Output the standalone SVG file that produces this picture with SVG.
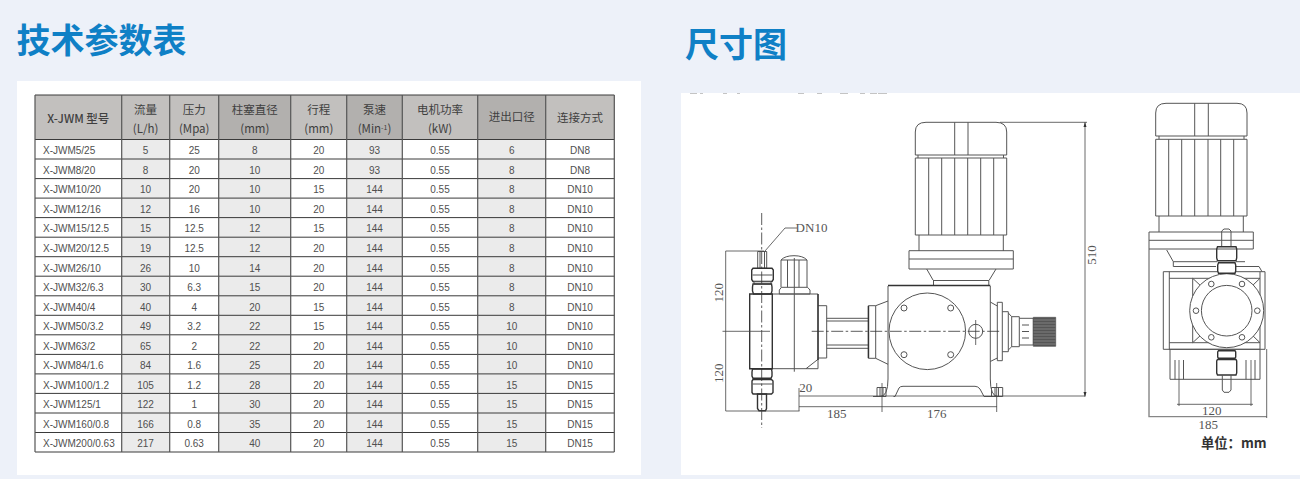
<svg xmlns="http://www.w3.org/2000/svg" width="1300" height="479" viewBox="0 0 1300 479">
<style>
.title{font:700 34px "Noto Sans CJK SC","Noto Sans",sans-serif;fill:#0f80c6}
.th{font:400 11.5px "Noto Sans CJK SC","Liberation Sans",sans-serif;fill:#3f3f3f;text-anchor:middle}
.td{font:400 10px "Liberation Sans",sans-serif;fill:#505050;text-anchor:middle}
.md{font:400 10px "Liberation Sans",sans-serif;fill:#505050}
.grid{stroke:#3a3a3a;stroke-width:1;fill:none}
.vgrid{stroke:#555;stroke-width:1.2;fill:none}
.l{fill:none;stroke:#555;stroke-width:1}
.h{fill:none;stroke:#333;stroke-width:1.4}
.f{fill:#fff;stroke:#555;stroke-width:1}
.d{fill:none;stroke:#444;stroke-width:.8}
.c{fill:none;stroke:#333;stroke-width:.8;stroke-dasharray:12 2.5 2.5 2.5}
.dim{font:400 13px "Liberation Serif",serif;fill:#555;text-anchor:middle}
</style>
<rect width="1300" height="479" fill="#edf1f9"/>
<rect x="17" y="81" width="624" height="394" fill="#fff"/>
<rect x="681" y="93" width="619" height="382" fill="#fff"/>
<path d="M690 93.5H697M700 93.5H703M723 93.5H727M737 93.5H740M798 93.5H804M817 93.5H822M840 93.5H848M860 93.5H865M870 93.5H877M878 93.5H887" stroke="#c4c4c4" stroke-width="1"/>
<text class="title" x="16.5" y="53">技术参数表</text>
<text class="title" x="685" y="57">尺寸图</text>

<g id="table">
<g fill="#c2c0be">
<rect x="35" y="95" width="86.7" height="44.5"/><rect x="121.7" y="95" width="48" height="44.5"/><rect x="169.7" y="95" width="49" height="44.5" fill="#c2c0be"/><rect x="218.7" y="95" width="72" height="44.5" fill="#b2b0ae"/><rect x="290.7" y="95" width="56" height="44.5"/><rect x="346.7" y="95" width="55.6" height="44.5" fill="#b2b0ae"/><rect x="402.3" y="95" width="75.4" height="44.5"/><rect x="477.7" y="95" width="68" height="44.5" fill="#b2b0ae"/><rect x="545.7" y="95" width="68.6" height="44.5"/>
</g>
<g fill="#ebebeb">
<rect x="121.7" y="139.5" width="48" height="312.5"/><rect x="218.7" y="139.5" width="72" height="312.5"/><rect x="346.7" y="139.5" width="55.6" height="312.5"/><rect x="477.7" y="139.5" width="68" height="312.5"/>
</g>
<path class="grid" d="M35 95H614.3M35 139.5H614.3M35 159H614.3M35 178.6H614.3M35 198.1H614.3M35 217.6H614.3M35 237.2H614.3M35 256.7H614.3M35 276.2H614.3M35 295.8H614.3M35 315.3H614.3M35 334.8H614.3M35 354.4H614.3M35 373.9H614.3M35 393.4H614.3M35 413H614.3M35 432.5H614.3M35 452H614.3"/>
<path class="vgrid" d="M35 95V452M121.7 95V452M169.7 95V452M218.7 95V452M290.7 95V452M346.7 95V452M402.3 95V452M477.7 95V452M545.7 95V452M614.3 95V452"/>
<g id="table-head">
<text class="th" x="78.3" y="122.5" style="font-weight:500">X-JWM 型号</text>
<text class="th" x="145.6" y="113.5">流量</text><text class="th" x="145.6" y="133">(L/h)</text>
<text class="th" x="194.2" y="113.5">压力</text><text class="th" x="194.2" y="133">(Mpa)</text>
<text class="th" x="254.8" y="113.5">柱塞直径</text><text class="th" x="254.8" y="133">(mm)</text>
<text class="th" x="318.8" y="113.5">行程</text><text class="th" x="318.8" y="133">(mm)</text>
<text class="th" x="374.5" y="113.5">泵速</text><text class="th" x="374.5" y="133">(Min<tspan font-size="7" dy="-3">-1</tspan><tspan dy="3">)</tspan></text>
<text class="th" x="440" y="113.5">电机功率</text><text class="th" x="440" y="133">(kW)</text>
<text class="th" x="511.7" y="121">进出口径</text>
<text class="th" x="580" y="121.5">连接方式</text>
</g>
<g id="table-body" transform="translate(0,1.4)">
<g transform="translate(0,152.9)"><text class="md" x="43">X-JWM5/25</text><text class="td" x="145.6">5</text><text class="td" x="194.2">25</text><text class="td" x="254.8">8</text><text class="td" x="318.8">20</text><text class="td" x="374.5">93</text><text class="td" x="440">0.55</text><text class="td" x="511.7">6</text><text class="td" x="580">DN8</text></g>
<g transform="translate(0,172.4)"><text class="md" x="43">X-JWM8/20</text><text class="td" x="145.6">8</text><text class="td" x="194.2">20</text><text class="td" x="254.8">10</text><text class="td" x="318.8">20</text><text class="td" x="374.5">93</text><text class="td" x="440">0.55</text><text class="td" x="511.7">8</text><text class="td" x="580">DN8</text></g>
<g transform="translate(0,191.9)"><text class="md" x="43">X-JWM10/20</text><text class="td" x="145.6">10</text><text class="td" x="194.2">20</text><text class="td" x="254.8">10</text><text class="td" x="318.8">15</text><text class="td" x="374.5">144</text><text class="td" x="440">0.55</text><text class="td" x="511.7">8</text><text class="td" x="580">DN10</text></g>
<g transform="translate(0,211.5)"><text class="md" x="43">X-JWM12/16</text><text class="td" x="145.6">12</text><text class="td" x="194.2">16</text><text class="td" x="254.8">10</text><text class="td" x="318.8">20</text><text class="td" x="374.5">144</text><text class="td" x="440">0.55</text><text class="td" x="511.7">8</text><text class="td" x="580">DN10</text></g>
<g transform="translate(0,231)"><text class="md" x="43">X-JWM15/12.5</text><text class="td" x="145.6">15</text><text class="td" x="194.2">12.5</text><text class="td" x="254.8">12</text><text class="td" x="318.8">15</text><text class="td" x="374.5">144</text><text class="td" x="440">0.55</text><text class="td" x="511.7">8</text><text class="td" x="580">DN10</text></g>
<g transform="translate(0,250.5)"><text class="md" x="43">X-JWM20/12.5</text><text class="td" x="145.6">19</text><text class="td" x="194.2">12.5</text><text class="td" x="254.8">12</text><text class="td" x="318.8">20</text><text class="td" x="374.5">144</text><text class="td" x="440">0.55</text><text class="td" x="511.7">8</text><text class="td" x="580">DN10</text></g>
<g transform="translate(0,270.1)"><text class="md" x="43">X-JWM26/10</text><text class="td" x="145.6">26</text><text class="td" x="194.2">10</text><text class="td" x="254.8">14</text><text class="td" x="318.8">20</text><text class="td" x="374.5">144</text><text class="td" x="440">0.55</text><text class="td" x="511.7">8</text><text class="td" x="580">DN10</text></g>
<g transform="translate(0,289.6)"><text class="md" x="43">X-JWM32/6.3</text><text class="td" x="145.6">30</text><text class="td" x="194.2">6.3</text><text class="td" x="254.8">15</text><text class="td" x="318.8">20</text><text class="td" x="374.5">144</text><text class="td" x="440">0.55</text><text class="td" x="511.7">8</text><text class="td" x="580">DN10</text></g>
<g transform="translate(0,309.1)"><text class="md" x="43">X-JWM40/4</text><text class="td" x="145.6">40</text><text class="td" x="194.2">4</text><text class="td" x="254.8">20</text><text class="td" x="318.8">15</text><text class="td" x="374.5">144</text><text class="td" x="440">0.55</text><text class="td" x="511.7">8</text><text class="td" x="580">DN10</text></g>
<g transform="translate(0,328.7)"><text class="md" x="43">X-JWM50/3.2</text><text class="td" x="145.6">49</text><text class="td" x="194.2">3.2</text><text class="td" x="254.8">22</text><text class="td" x="318.8">15</text><text class="td" x="374.5">144</text><text class="td" x="440">0.55</text><text class="td" x="511.7">10</text><text class="td" x="580">DN10</text></g>
<g transform="translate(0,348.2)"><text class="md" x="43">X-JWM63/2</text><text class="td" x="145.6">65</text><text class="td" x="194.2">2</text><text class="td" x="254.8">22</text><text class="td" x="318.8">20</text><text class="td" x="374.5">144</text><text class="td" x="440">0.55</text><text class="td" x="511.7">10</text><text class="td" x="580">DN10</text></g>
<g transform="translate(0,367.7)"><text class="md" x="43">X-JWM84/1.6</text><text class="td" x="145.6">84</text><text class="td" x="194.2">1.6</text><text class="td" x="254.8">25</text><text class="td" x="318.8">20</text><text class="td" x="374.5">144</text><text class="td" x="440">0.55</text><text class="td" x="511.7">10</text><text class="td" x="580">DN10</text></g>
<g transform="translate(0,387.3)"><text class="md" x="43">X-JWM100/1.2</text><text class="td" x="145.6">105</text><text class="td" x="194.2">1.2</text><text class="td" x="254.8">28</text><text class="td" x="318.8">20</text><text class="td" x="374.5">144</text><text class="td" x="440">0.55</text><text class="td" x="511.7">15</text><text class="td" x="580">DN15</text></g>
<g transform="translate(0,406.8)"><text class="md" x="43">X-JWM125/1</text><text class="td" x="145.6">122</text><text class="td" x="194.2">1</text><text class="td" x="254.8">30</text><text class="td" x="318.8">20</text><text class="td" x="374.5">144</text><text class="td" x="440">0.55</text><text class="td" x="511.7">15</text><text class="td" x="580">DN15</text></g>
<g transform="translate(0,426.3)"><text class="md" x="43">X-JWM160/0.8</text><text class="td" x="145.6">166</text><text class="td" x="194.2">0.8</text><text class="td" x="254.8">35</text><text class="td" x="318.8">20</text><text class="td" x="374.5">144</text><text class="td" x="440">0.55</text><text class="td" x="511.7">15</text><text class="td" x="580">DN15</text></g>
<g transform="translate(0,445.9)"><text class="md" x="43">X-JWM200/0.63</text><text class="td" x="145.6">217</text><text class="td" x="194.2">0.63</text><text class="td" x="254.8">40</text><text class="td" x="318.8">20</text><text class="td" x="374.5">144</text><text class="td" x="440">0.55</text><text class="td" x="511.7">15</text><text class="td" x="580">DN15</text></g>
</g>
</g>

<g id="front-view">
<path class="l" d="M915.3 155V132Q915.3 122.3 926 122.3H996Q1006.7 122.3 1006.7 132V155ZM954.7 122.3V155M968 122.3V155M918 155V158M1003.5 155V158"/>
<path class="l" d="M915.3 158H1006.7V235H915.3ZM928.7 158V235M941.7 158V235M954.7 158V235M967.7 158V235M980.7 158V235M993.7 158V235M919 235V251M1003.3 235V251"/>
<path class="l" d="M909 250.7H1013.3V269H909ZM909 259H1013.3M926.7 269L933 280M996 269L989.3 280M933.5 280V286M988.8 280V286M933.5 280.5H988.8"/>
<path class="l" d="M888 286V379Q888 396.5 880 396.5H873M990.3 286V379Q990.3 396.5 998 396.5M893.5 396.5H895L899 388Q900 386.3 903 386.3H975Q978 386.3 980 389L984 396.5H998"/>
<path class="h" d="M888 285.5H990.3"/>
<circle class="l" cx="927.3" cy="331.3" r="38.3"/>
<circle class="l" cx="904" cy="308" r="3"/><circle class="l" cx="950.7" cy="308" r="3"/><circle class="l" cx="904" cy="354.7" r="3"/><circle class="l" cx="950.7" cy="354.7" r="3"/>
<circle class="l" cx="975.7" cy="331.3" r="7"/>
<path class="d" d="M975.7 320V345"/>
<path class="l" d="M877 387.5H886V396.5H877ZM880 387.5V396.5M883 387.5V396.5M991.5 387.5H1002.7V396.5H991.5ZM995 387.5V396.5M998.5 387.5V396.5"/>
<path class="l" d="M990.3 302L997.3 306M990.3 361.5L997.3 358M997.3 302.3H1002.3V360.7H997.3ZM1002.3 311.7H1008.3V351.7H1002.3M1008.3 313L1011.7 316.7V346.7L1008.3 350M1011.7 316.7H1019.3V346.7H1011.7M1019.3 318.3H1033.3V345H1019.3"/>
<path d="M1033.3 317.3H1055.7V346.3H1033.3Z" fill="#555" stroke="#444" stroke-width=".6"/>
<path d="M1033.5 320H1055.5M1033.5 323H1055.5M1033.5 326H1055.5M1033.5 329H1055.5M1033.5 332H1055.5M1033.5 335H1055.5M1033.5 338H1055.5M1033.5 341H1055.5M1033.5 344H1055.5" stroke="#aaa" stroke-width=".5"/>
<path class="l" d="M1022 325H1029M1022 331.5H1029M1022 338H1029"/>
<path class="l" d="M818 305.7H826.7V358H818M826.7 318.3H868M826.7 321H868M826.7 345H868M826.7 348.3H868M868.3 305.7H875.7V358.3H868.3ZM875.7 305.7L888 301M875.7 358.3L888 364.3"/>
<path class="h" d="M868.5 306V358"/>
<path class="l" d="M772.3 294H818V368.7H772.3M806 368.7L818 359.3"/>
<path class="h" d="M749.7 294H772.3V368.7H749.7ZM818 294V360"/>
<path class="l" d="M794.3 258V371.7"/>
<path class="l" d="M757.7 251.5H766.7V268.3H757.7ZM760 251.5V268M764.5 251.5V268"/>
<path class="h" d="M753 268.3H772L773.3 270V279.5L772 281.5H753L751.7 279.5V270Z"/>
<path class="l" d="M752.5 275H772.5M754 281.5H771V284H754Z"/>
<path class="h" d="M753 284H771.5L772 287V291L771 294H753.5L752.5 291V287Z"/>
<path class="l" d="M781 287.3V260Q785 255.7 794 255.7Q803 255.7 807 260V287.3M781 260H807M787.5 260V287.3M799 260V287.3M781.5 287.3H807.5L810 290V294H779.3V290Z"/>
<path class="h" d="M752.5 369H771.5L772 372V376L771 378.3H753L752 376V372Z"/>
<path class="h" d="M753 379.5H771.5L773 381V392.5L771.5 394H753L752 392.5V381Z"/>
<path class="l" d="M752.5 384H772.5"/>
<path class="h" d="M757.5 394H766.5V408.5L765.5 410.7H759L757.5 408.5Z"/>
<path class="c" d="M761.7 213V428"/>
<path class="c" d="M811.7 331.3H1000"/>
</g>

<g id="dimensions">
<path class="d" d="M725.7 251V411M725.7 251H764M722.5 331.3H770M725.7 411H799.5M765 251L785 228H797M799 388V411M799 396H1085M1085 122.3V396.5M1000 122.3H1087M799 406.7H997M882 383V412M996.7 383V412"/>
<path d="M1085 122l-1.5 5h3zM1085 397l-1.5 -5h3z" fill="#333"/>
<text class="dim" transform="translate(723,292.7) rotate(-90)">120</text>
<text class="dim" transform="translate(723,373.3) rotate(-90)">120</text>
<text class="dim" transform="translate(1096,255) rotate(-90)">510</text>
<text class="dim" x="811.5" y="231.5">DN10</text>
<text class="dim" x="805.7" y="391.5">20</text>
<text class="dim" x="836.7" y="418">185</text>
<text class="dim" x="936.7" y="418">176</text>
</g>

<g id="side-view">
<path class="l" d="M1155.7 136V113Q1155.7 103.3 1166 103.3H1237Q1247 103.3 1247 113V136ZM1194.7 103.3V136M1208.3 103.3V136M1159 136V139M1244 136V139"/>
<path class="l" d="M1155.7 139.3H1247V216H1155.7ZM1168.7 139.3V216M1181.7 139.3V216M1194.7 139.3V216M1208 139.3V216M1220.7 139.3V216M1233.7 139.3V216M1159 216V232M1243.3 216V232"/>
<path class="l" d="M1149 232H1253.3V249H1149ZM1149 240.3H1253.3M1149 249V416M1166.7 250L1173.3 261.7V266.5H1216M1236 266.5H1259L1262 271.7"/>
<path class="l" d="M1173.3 261.7H1217M1236 261.7H1245"/>
<path class="l" d="M1163.3 271.7H1265V349.3H1163.3ZM1169.3 271.7V349.3H1260V271.7M1169.3 278.3H1260M1169.3 342.7H1260M1192.7 278.3V342.7M1192.7 278.3L1202 287M1260 278.3L1251 287M1192.7 342.7L1202 334M1260 342.7L1251 334"/>
<path class="l" d="M1170 349.3V379.3H1260V349.3M1175 379.3V360M1183.5 379.3V360M1246 379.3V360M1255 379.3V360"/>
<circle class="f" cx="1226.7" cy="310.7" r="37"/>
<circle class="l" cx="1226.7" cy="310.7" r="25.3"/>
<circle class="l" cx="1211.3" cy="284" r="2.8"/><circle class="l" cx="1242" cy="284" r="2.8"/><circle class="l" cx="1196" cy="310.7" r="2.8"/><circle class="l" cx="1257.3" cy="310.7" r="2.8"/><circle class="l" cx="1211.3" cy="337.3" r="2.8"/><circle class="l" cx="1242" cy="337.3" r="2.8"/>
<path class="l" d="M1221.7 246.7V231L1224 229H1229L1231 231V246.7"/>
<path class="h" d="M1217.5 246.7H1236L1236.7 249V258L1236 260.7H1217.5L1216.7 258V249Z"/>
<path class="h" d="M1218.5 262.7H1235L1235.7 265V271L1235 273.3H1218.5L1217.7 271V265Z" style="fill:#fff"/>
<path class="h" d="M1218.5 350.7H1235L1235.7 352V357L1235 358.3H1218.5L1217.7 357V352Z" style="fill:#fff"/>
<path class="h" d="M1217.5 359.5H1236L1236.7 361V373L1236 375H1217.5L1216.7 373V361Z" style="fill:#fff"/>
<path class="l" d="M1222.3 375V390L1224 392.3H1229L1231 390V375"/>
<path class="d" d="M1179 360V406M1251 360V406M1177 404.3H1253M1148.3 416.7H1266.7M1266.7 349V418"/>
<text class="dim" x="1211.7" y="414.5">120</text>
<text class="dim" x="1208.3" y="429">185</text>
<text x="1201" y="448" style="font:700 13.3px 'Noto Sans CJK SC','Liberation Sans',sans-serif;fill:#333">单位：mm</text>
</g>
</svg>
